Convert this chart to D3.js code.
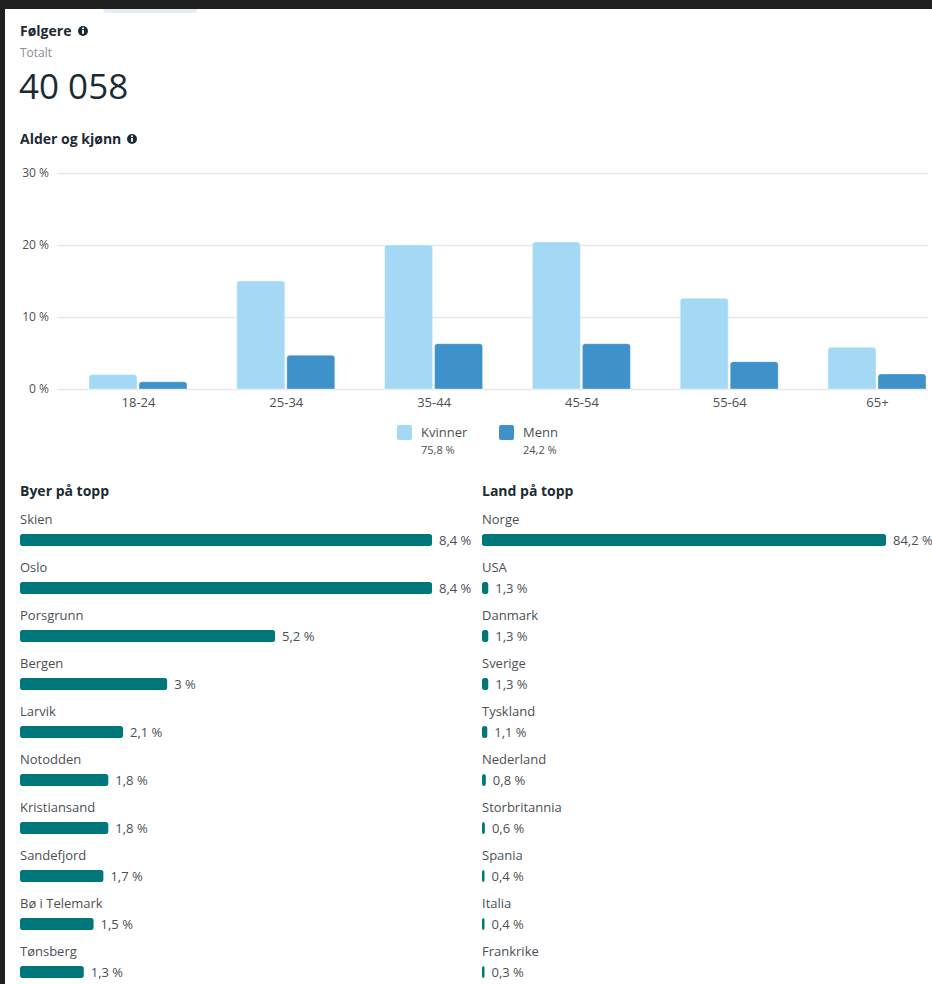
<!DOCTYPE html>
<html lang="no">
<head>
<meta charset="utf-8">
<title>Følgere</title>
<script src="https://cdn.jsdelivr.net/npm/d3@7/dist/d3.min.js"></script>
<style>
  html, body { margin: 0; padding: 0; background: #1f1f1f; }
  svg { display: block; }
  text { font-family: "Open Sans", "Noto Sans", sans-serif; }
</style>
</head>
<body>
<svg id="chart" width="932" height="984"></svg>
<script>
// ---- data ----
const totalFollowers = 40058;

const ageGroups = ["18-24", "25-34", "35-44", "45-54", "55-64", "65+"];
const womenShare = [2.0, 15.0, 20.0, 20.4, 12.6, 5.8];
const menShare = [1.0, 4.7, 6.3, 6.3, 3.8, 2.1];
const yTicks = [0, 10, 20, 30];

const genderLabels = ["Kvinner", "Menn"];
const genderTotals = [75.8, 24.2];

const cities = ["Skien", "Oslo", "Porsgrunn", "Bergen", "Larvik", "Notodden",
  "Kristiansand", "Sandefjord", "Bø i Telemark", "Tønsberg"];
const cityShare = [8.4, 8.4, 5.2, 3, 2.1, 1.8, 1.8, 1.7, 1.5, 1.3];

const countries = ["Norge", "USA", "Danmark", "Sverige", "Tyskland", "Nederland",
  "Storbritannia", "Spania", "Italia", "Frankrike"];
const countryShare = [84.2, 1.3, 1.3, 1.3, 1.1, 0.8, 0.6, 0.4, 0.4, 0.3];

// ---- formatting ----
const nb = d3.formatLocale({ decimal: ",", thousands: " ", grouping: [3], currency: ["", " kr"] });
const fmtInt = nb.format(",d");
const fmtPct = v => (Number.isInteger(v) ? String(v) : nb.format(".1f")(v)) + " %";

// ---- colours ----
const C = {
  heading: "#1c2b33",
  sub: "#8a8d91",
  text: "#4b4f56",
  grid: "#e6e7ea",
  women: "#a4d9f6",
  men: "#3e92c9",
  teal: "#00777a"
};

const svg = d3.select("#chart");

// page panel
svg.append("rect").attr("x", 0).attr("y", 0).attr("width", 932).attr("height", 984).attr("fill", "#1f1f1f");
svg.append("rect").attr("x", 5).attr("y", 9).attr("width", 927).attr("height", 975).attr("fill", "#ffffff");
// selected tab underline
svg.append("rect").attr("x", 103).attr("y", 3).attr("width", 94).attr("height", 10).attr("rx", 4).attr("fill", "#e4eefa");
svg.append("rect").attr("x", 0).attr("y", 0).attr("width", 932).attr("height", 9).attr("fill", "#1f1f1f");

// info icon
function infoIcon(cx, cy) {
  const g = svg.append("g").attr("transform", `translate(${cx},${cy})`);
  g.append("circle").attr("r", 5).attr("fill", C.heading);
  g.append("rect").attr("x", -0.9).attr("y", -1).attr("width", 1.8).attr("height", 3.8).attr("fill", "#fff");
  g.append("circle").attr("cx", 0).attr("cy", -2.7).attr("r", 1).attr("fill", "#fff");
}

function heading(x, y, label) {
  return svg.append("text").attr("x", x).attr("y", y).attr("dy", "0.35em")
    .attr("font-size", 14).attr("font-weight", 700).attr("fill", C.heading)
    .text(label);
}

// ---- header ----
heading(20, 31, "Følgere");
infoIcon(83, 31);
svg.append("text").attr("x", 20).attr("y", 52.5).attr("dy", "0.35em")
  .attr("font-size", 12).attr("fill", C.sub).text("Totalt");
svg.append("text").attr("x", 19).attr("y", 99)
  .attr("font-size", 35).attr("font-weight", 400).attr("fill", C.heading).text(fmtInt(totalFollowers));

heading(20, 139, "Alder og kjønn");
infoIcon(132, 139);

// ---- age & gender chart ----
const x = d3.scalePoint().domain(ageGroups).range([138, 877]);
const y = d3.scaleLinear().domain([0, 30]).range([389, 173]);
const gridLeft = 57, gridRight = 928;
const barW = 48, barGap = 1;

const yAxis = svg.append("g")
  .attr("transform", `translate(${gridLeft},0)`)
  .call(d3.axisLeft(y).tickValues(yTicks).tickSize(-(gridRight - gridLeft)).tickPadding(8).tickFormat(d => d + " %"));
yAxis.select(".domain").remove();
yAxis.selectAll(".tick line").attr("stroke", C.grid).attr("stroke-width", 1.5);
yAxis.selectAll(".tick text").attr("font-size", 12).attr("fill", C.text)
  .attr("font-family", "'Open Sans', sans-serif");

// top-rounded bar path
function topRounded(x0, y0, w, h, r) {
  r = Math.min(r, h, w / 2);
  return `M${x0},${y0 + h}V${y0 + r}Q${x0},${y0} ${x0 + r},${y0}H${x0 + w - r}Q${x0 + w},${y0} ${x0 + w},${y0 + r}V${y0 + h}Z`;
}

const series = [
  { values: womenShare, color: C.women, offset: -(barW + barGap) },
  { values: menShare, color: C.men, offset: barGap }
];
series.forEach(s => {
  svg.append("g").selectAll("path")
    .data(ageGroups.map((g, i) => ({ g, v: s.values[i] })))
    .join("path")
    .attr("d", d => topRounded(x(d.g) + s.offset, y(d.v), barW, y(0) - y(d.v), 3))
    .attr("fill", s.color)
    .attr("stroke", "#ffffff").attr("stroke-opacity", 0.35).attr("stroke-width", 1);
});

const xAxis = svg.append("g")
  .attr("transform", `translate(0,${y(0)})`)
  .call(d3.axisBottom(x).tickSize(0).tickPadding(9));
xAxis.select(".domain").remove();
xAxis.selectAll(".tick text").attr("font-size", 13).attr("fill", C.text)
  .attr("font-family", "'Open Sans', sans-serif");

// legend
const legendX = [397, 499];
const legendColors = [C.women, C.men];
genderLabels.forEach((lab, i) => {
  const g = svg.append("g").attr("transform", `translate(${legendX[i]},425)`);
  g.append("rect").attr("width", 15).attr("height", 15).attr("rx", 2).attr("fill", legendColors[i]);
  g.append("text").attr("x", 24).attr("y", 7).attr("dy", "0.35em")
    .attr("font-size", 13).attr("fill", C.text).text(lab);
  g.append("text").attr("x", 24).attr("y", 25).attr("dy", "0.35em")
    .attr("font-size", 11).attr("fill", C.text).text(fmtPct(genderTotals[i]));
});

// ---- top lists ----
function topList(x0, title, names, values, maxW) {
  heading(x0, 491, title);
  const row = d3.scalePoint().domain(names).range([519, 519 + 48 * (names.length - 1)]);
  const w = d3.scaleLinear().domain([0, d3.max(values)]).range([0, maxW]);
  const data = names.map((n, i) => ({ n, v: values[i] }));
  const g = svg.append("g");
  const rows = g.selectAll("g").data(data).join("g")
    .attr("transform", d => `translate(${x0},${row(d.n)})`);
  rows.append("text").attr("y", 0).attr("dy", "0.35em")
    .attr("font-size", 13).attr("fill", C.text).text(d => d.n);
  rows.append("rect").attr("x", 0).attr("y", 15).attr("height", 12).attr("rx", 2.5)
    .attr("width", d => Math.max(2.5, w(d.v))).attr("fill", C.teal);
  rows.append("text").attr("x", d => Math.max(2.5, w(d.v)) + 7).attr("y", 21).attr("dy", "0.35em")
    .attr("font-size", 13).attr("fill", C.text).text(d => fmtPct(d.v));
}

topList(20, "Byer på topp", cities, cityShare, 412);
topList(482, "Land på topp", countries, countryShare, 404);
</script>
</body>
</html>
